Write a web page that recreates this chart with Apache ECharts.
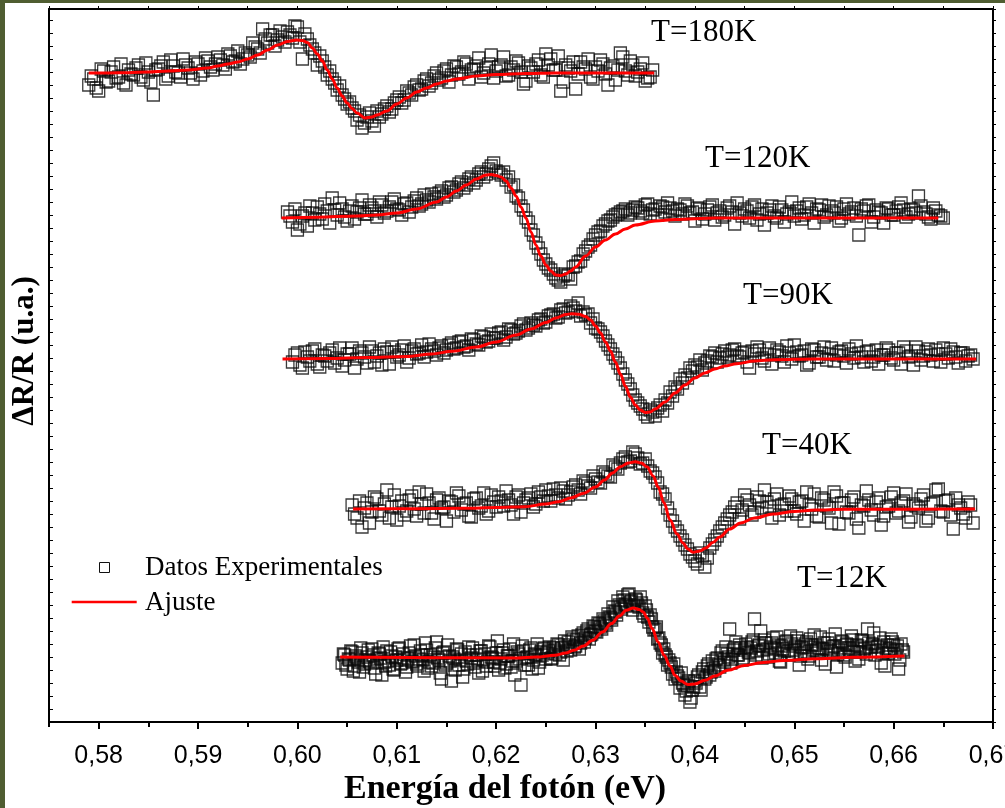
<!DOCTYPE html>
<html>
<head>
<meta charset="utf-8">
<script src="https://cdn.jsdelivr.net/npm/echarts@6/dist/echarts.min.js"></script>
<style>
  html, body { margin: 0; padding: 0; background: #fff; }
  #frame {
    position: absolute; left: 0; top: 0;
    width: 1000px; height: 805px;
    border-left: 5px solid #4f5d31; border-top: 3px solid #4f5d31;
    background: #fff;
  }
  #chart { width: 1000px; height: 805px; }
</style>
</head>
<body>
<div id="frame"><div id="chart"></div></div>
<script>
// Photon-energy axis ticks (eV)
const majorTicks = [0.58, 0.59, 0.60, 0.61, 0.62, 0.63, 0.64, 0.65, 0.66, 0.67];
const minorTicks = [0.575, 0.585, 0.595, 0.605, 0.615, 0.625, 0.635, 0.645, 0.655, 0.665];

// Spectra, top to bottom
const temps = ['T=180K', 'T=120K', 'T=90K', 'T=40K', 'T=12K'];
// vertical offset of each spectrum on the stacked ΔR/R scale (u.a.)
const offsets = [649, 504, 363, 213, 65];
// energy grid of each measurement: first point and step (eV);
// the second scan of every spectrum sits half a step later
const gridStart = [0.579, 0.599, 0.5995, 0.6055, 0.6045];
const gridStep  = [0.0005, 0.0005, 0.0005, 0.0005, 0.00025];

// Measured ΔR/R (u.a.), scan A, one value per grid point
const data180 = [
  -12, -6, -18, 2, -8, 6, -4, -10, 3, -2,
  8, -7, 1, -22, 4, 11, -3, 7, 0, 14,
  5, -6, 9, 2, 12, 3, 16, 8, 19, 11,
  22, 14, 18, 30, 24, 44, 30, 38, 33, 36,
  41, 35, 46, 14, 34, 24, 8, 12, -2, -6,
  -17, -22, -31, -35, -47, -55, -44, -48, -38, -41,
  -33, -36, -27, -30, -18, -22, -12, -16, -6, -10,
  0, -5, 4, -2, 6, 1, 9, 3, 7, -4,
  5, 18, 2, 8, -3, 6, 12, 1, -8, 5,
  9, -2, 19, 14, 3, -18, 8, 2, -16, 11,
  4, -4, 6, 13, -1, 5, -7, 20, 2, 12,
  -3, 4, -8, -4
];
const data120 = [
  6, -4, -12, 2, -8, 5, 11, -1, 7, 20,
  3, 9, -3, 12, 6, 18, 4, 10, 1, 13,
  7, 16, 9, 3, 15, 11, 20, 14, 18, 24,
  19, 27, 23, 31, 28, 36, 33, 41, 38, 46,
  44, 52, 47, 43, 38, 31, 22, 12, 0, -12,
  -25, -36, -46, -52, -60, -64, -56, -61, -48, -43,
  -33, -27, -17, -13, -6, -2, 3, 6, 9, 5,
  11, 7, 13, 4, 9, 12, 6, 10, 2, 8,
  14, 5, -3, 9, 4, 11, -2, 7, 3, 12,
  -6, 5, 9, 0, 13, 4, -7, 8, 2, 11,
  -4, 6, 2, 10, 3, 14, -5, 8, 1, 12,
  5, -3, 9, 4, 10, -17, 7, 13, 1, 6,
  -5, 9, 3, 11, 8, 4, 8, 22, 6, 1,
  10, 3, 0
];
const data90 = [
  -3, 6, -9, 2, 8, -5, 4, -2, 9, 1,
  -7, 5, 11, 0, 6, -4, 8, 3, -6, 7,
  12, 2, 9, -3, 8, 5, 14, 7, 10, 4,
  13, 9, 16, 11, 18, 13, 20, 15, 23, 17,
  25, 21, 27, 22, 29, 26, 33, 29, 36, 33,
  40, 37, 44, 41, 49, 46, 53, 48, 43, 44,
  36, 31, 27, 18, 10, 1, -9, -21, -30, -41,
  -47, -55, -51, -57, -46, -41, -33, -28, -20, -16,
  -9, -6, -1, -4, 3, 6, 1, 8, 4, 10,
  2, 7, -9, 5, 9, -2, 11, 4, 7, -3,
  6, 14, 3, 8, -4, 9, 2, 12, 5, -2,
  7, 3, 10, 1, 6, -3, 8, 2, -5, 4,
  9, -1, 6, 12, 2, -6, 8, 3, 10, -2,
  5, 11, 1, 7, -4, 6, 3, 0
];
const data40 = [
  4, -9, -18, 6, -3, 10, -6, 19, 2, -11,
  8, -2, 13, -7, 5, 15, -4, 9, 1, -12,
  7, 16, -1, 6, -8, 11, 3, -5, 14, 2,
  8, 18, 4, 12, -3, 9, 15, 5, 12, 19,
  8, 14, 21, 10, 17, 24, 15, 26, 21, 30,
  26, 35, 32, 42, 46, 52, 48, 55, 45, 50,
  38, 32, 17, 10, -6, -18, -27, -36, -45, -52,
  -44, -58, -39, -31, -22, -14, -6, 2, -10, 14,
  4, -3, 8, 19, 2, 10, -6, 5, 13, -2,
  7, -12, 4, 15, -8, 9, 1, 17, -15, 6,
  -4, 12, -19, 3, 9, -6, 11, -7, 3, 16,
  -2, 8, -13, 5, 1, 14, -9, 6, 20, -3,
  9, -20, 4, -5, 7, -14
];
const data12 = [
  -6, 2, -12, -3, 5, -9, -1, -15, 4, -7,
  0, -4, 8, -11, -2, 3, -18, -5, 6, -8,
  1, -13, -3, 9, -6, -1, -10, 4, -4, 12,
  -7, -2, 2, -14, 7, -5, -9, 0, 15, -3,
  -22, 5, -6, 1, -24, -2, 8, -8, 3, -12,
  -4, 10, -1, -6, 2, -16, 6, -3, -9, 11,
  0, -5, 4, -13, -2, 7, -7, 1, -10, 13,
  -4, 3, -28, 6, -1, -8, 9, -3, 2, -11,
  5, 8, -2, 6, -2, 9, 3, 12, 5, -3,
  10, 15, 7, 18, 11, 21, 14, 24, 19, 28,
  22, 31, 26, 34, 30, 38, 34, 43, 39, 50,
  45, 56, 50, 60, 53, 62, 55, 47, 58, 52,
  60, 44, 51, 40, 42, 30, 28, 18, 14, 4,
  2, -8, -6, -17, -22, -19, -31, -26, -38, -29,
  -45, -33, -24, -20, -30, -15, -22, -9, -18, -4,
  -14, -1, -10, 6, -5, 3, 28, -2, 9, 2,
  12, -3, 7, 10, 4, 15, 38, 6, 12, -1,
  17, 8, 3, 14, 9, 20, -4, 11, 6, 16,
  2, 13, 7, 19, -8, 10, 5, 15, 1, 12,
  22, 6, 9, -3, 14, 8, 18, 4, 11, -10,
  7, 16, 2, 13, 9, 21, 5, 12, -2, 17,
  8, 3, 14, 10, 24, 6, 11, -6, 15, 9,
  4, 18, 12, 7, -12, 13, 5
];

// Measured ΔR/R (u.a.), scan B (half a step after scan A)
const data180b = [
  -3, -15, 4, -9, 1, -5, 9, -12, -1, 5,
  -4, 10, -9, 3, 7, -6, 13, 1, -4, 8,
  0, 11, -2, 15, 6, 9, 13, 4, 17, 12,
  9, 20, 16, 26, 20, 34, 38, 27, 42, 31,
  38, 47, 31, 39, 28, 20, 17, 6, 2, -10,
  -13, -26, -29, -38, -42, -50, -40, -53, -44, -36,
  -39, -30, -24, -27, -20, -14, -17, -8, -13, -3,
  -7, 2, -9, 7, -1, 11, -6, 4, 15, 0,
  9, -5, 6, 16, -2, 3, 10, -11, 7, 1,
  13, -4, 8, 3, 17, -9, 5, 11, -1, 6,
  14, -6, 2, 9, -12, 7, 3, 16, -2, 8,
  1, 10, -5, 3
];
const data120b = [
  2, 9, -6, 5, 12, -2, 4, 14, -5, 8,
  15, 1, 7, -1, 10, 4, 13, 7, 16, 5,
  11, 19, 8, 14, 6, 17, 12, 23, 16, 21,
  25, 21, 30, 26, 34, 30, 39, 35, 44, 41,
  49, 55, 45, 46, 41, 33, 20, 8, -4, -17,
  -30, -42, -50, -56, -62, -58, -57, -49, -44, -36,
  -29, -21, -14, -8, -3, 1, 4, 7, 3, 8,
  10, 5, 14, 8, 3, 11, 15, 7, 9, 4,
  12, 6, 10, -1, 8, 13, 5, 1, 10, 6,
  15, 2, 7, 11, -2, 9, 5, 12, 0, 8,
  4, 16, 7, -1, 11, 5, 9, 13, 3, 7,
  11, 0, 14, 6, 2, 9, 12, -4, 8, 5,
  10, 3, 7, 15, 1, 9, 5, 12, 4, -1,
  7, 2
];
const data90b = [
  4, -6, 7, -2, 10, -8, 3, 6, -4, 11,
  -1, 5, -9, 8, 2, 12, -3, 6, 10, -5,
  7, 4, 13, 1, 10, 6, 2, 15, 8, 11,
  6, 14, 10, 17, 12, 9, 19, 14, 22, 18,
  21, 26, 19, 30, 25, 28, 35, 31, 34, 39,
  36, 43, 45, 42, 50, 47, 51, 56, 47, 45,
  40, 30, 23, 14, 5, -4, -15, -25, -36, -44,
  -50, -58, -53, -49, -52, -44, -37, -30, -24, -19,
  -12, -8, -11, -2, 2, -3, 5, 2, 9, 3,
  6, -3, 8, 12, 1, 5, -5, 9, 3, 13,
  0, 7, 4, -6, 10, 2, 6, -1, 11, 4,
  8, -4, 5, 13, 2, 7, -2, 9, 4, 11,
  1, 6, -5, 8, 3, 12, -1, 7, 4, 9,
  -3, 5, 10, 2, 6, -2, 4
];
const data40b = [
  -5, 8, 1, -14, 12, -2, 5, -9, 14, 3,
  -6, 9, 0, 17, -4, 6, -10, 11, 2, 8,
  -3, 13, 5, -7, 10, 1, 16, -2, 7, 12,
  3, 9, -5, 14, 6, 11, 2, 17, 8, 13,
  20, 11, 18, 14, 22, 19, 28, 23, 33, 27,
  37, 33, 44, 40, 50, 47, 57, 51, 46, 43,
  36, 26, 15, 1, -12, -22, -31, -40, -48, -55,
  -47, -49, -35, -27, -18, -10, -3, 6, -1, 9,
  -6, 12, 1, 7, -9, 15, 4, -2, 10, -5,
  8, 17, 0, -7, 11, 3, -14, 13, 6, -3,
  9, -10, 4, 18, -1, 7, -16, 2, 12, -4,
  6, 15, -8, 3, 10, -12, 5, 19, -2, 8,
  -6, 11, 1, -9, 4
];
const data12b = [
  3, -8, -2, 6, -14, 1, -5, 9, -10, -3,
  7, -6, 2, -17, 4, -1, 10, -9, -4, 5,
  -12, 0, 8, -7, 3, -15, -2, 11, -5, 1,
  -9, 6, -3, 14, -11, 2, -6, 9, -1, -16,
  4, -8, 12, -4, 0, -13, 7, -3, -20, 5,
  -7, 2, 9, -10, -2, 6, -14, 3, -5, 10,
  -1, -9, 16, -6, 4, -11, 1, 8, -4, -18,
  5, -2, 11, -8, 0, 7, -12, 3, 13, -5,
  2, 9, 4, 10, -1, 7, 13, 2, 9, 16,
  6, 12, 20, 10, 17, 8, 22, 15, 26, 18,
  23, 30, 25, 33, 28, 36, 32, 40, 37, 46,
  42, 52, 48, 57, 52, 63, 56, 51, 57, 50,
  54, 41, 47, 35, 38, 27, 30, 19, 12, 8,
  0, -3, -10, -7, -15, -21, -16, -28, -34, -24,
  -41, -30, -26, -18, -33, -12, -20, -7, -15, -11,
  -2, -8, 4, -3, 10, 0, -6, 7, 15, 2,
  9, -1, 13, 5, 9, 17, 2, 11, 26, 7,
  14, 0, 10, 19, 4, 12, -5, 8, 15, 6,
  21, 3, 11, 16, 1, 9, 13, -2, 18, 7,
  12, 4, 20, 8, -7, 14, 6, 10, 23, 3,
  9, 15, 0, 12, 7, 17, -4, 11, 5, 16,
  9, 28, 6, 13, 2, 10, 19, 4, -9, 12,
  8, 15, 3, 11, -3, 7
];

// Fitted line shapes: [energy (eV), ΔR/R (u.a.)]
const fit180 = [
  [0.579, 0], [0.581, 0], [0.583, 0.3], [0.585, 1], [0.587, 2], [0.589, 3], [0.591, 5],
  [0.592, 7], [0.593, 9], [0.594, 11], [0.595, 14], [0.596, 18], [0.597, 23], [0.598, 28],
  [0.599, 31.5], [0.5999, 33], [0.6005, 32.5], [0.601, 30.5], [0.6015, 25], [0.602, 19],
  [0.6025, 12], [0.603, 3], [0.6035, -6], [0.604, -15], [0.6045, -23], [0.605, -30],
  [0.6055, -35.5], [0.606, -40], [0.6068, -45], [0.6075, -44], [0.608, -42], [0.609, -38],
  [0.610, -31], [0.611, -25], [0.612, -19], [0.613, -15], [0.614, -11], [0.615, -8],
  [0.616, -6], [0.618, -3], [0.620, -1.5], [0.623, -0.5], [0.626, 0], [0.6359, 0]
];
const fit120 = [
  [0.5984, 0], [0.602, 0.8], [0.606, 2], [0.608, 3], [0.610, 5], [0.612, 9], [0.614, 16],
  [0.615, 21], [0.616, 27], [0.617, 33], [0.618, 39], [0.619, 43], [0.6195, 43.5],
  [0.620, 42.5], [0.6205, 41], [0.621, 37], [0.6215, 30], [0.622, 22], [0.6225, 11],
  [0.623, 0], [0.6235, -14], [0.624, -27], [0.6245, -38], [0.625, -47], [0.6255, -53],
  [0.626, -57], [0.6265, -57.5], [0.627, -56], [0.6275, -53], [0.628, -49], [0.629, -38],
  [0.630, -29], [0.631, -22], [0.632, -16], [0.633, -11], [0.634, -7], [0.636, -3],
  [0.638, -1.5], [0.642, 0], [0.6645, 0]
];
const fit90 = [
  [0.5985, 0], [0.603, 0.5], [0.607, 1.5], [0.611, 2.6], [0.6135, 5], [0.6156, 7.7],
  [0.618, 12], [0.620, 17], [0.622, 24], [0.6235, 30], [0.625, 36.5], [0.626, 41],
  [0.627, 44.5], [0.6276, 45.3], [0.6283, 44.8], [0.629, 42.6], [0.6295, 39], [0.630, 33],
  [0.6305, 26], [0.631, 17], [0.6315, 8], [0.632, -3], [0.6325, -15], [0.633, -27],
  [0.6335, -38], [0.634, -46], [0.6345, -51], [0.635, -53.4], [0.6355, -53], [0.636, -50],
  [0.637, -43], [0.638, -34], [0.639, -26], [0.640, -19], [0.641, -14], [0.642, -10],
  [0.643, -7], [0.6442, -4.7], [0.646, -2], [0.648, -0.7], [0.652, 0], [0.6683, 0]
];
const fit40 = [
  [0.6056, 0], [0.612, 0.3], [0.6167, 0.7], [0.620, 1.5], [0.6229, 2.3], [0.625, 5],
  [0.6263, 7.3], [0.6275, 11], [0.6288, 15.7], [0.630, 22], [0.6309, 29], [0.6317, 36],
  [0.6325, 42.3], [0.6333, 46], [0.634, 47.3], [0.6346, 46], [0.6352, 42], [0.6358, 33],
  [0.6363, 22], [0.6369, 6], [0.6375, -11], [0.6382, -25], [0.6388, -34], [0.6393, -40],
  [0.6398, -43.3], [0.6405, -42], [0.6411, -39], [0.6418, -33.5], [0.6425, -28],
  [0.6435, -20], [0.6446, -14], [0.646, -9], [0.6479, -5], [0.650, -2.5], [0.6521, -1],
  [0.655, -0.3], [0.6682, 0]
];
const fit12 = [
  [0.6043, 0], [0.608, -0.3], [0.6145, -0.7], [0.6221, -1], [0.624, 0], [0.6259, 1.7],
  [0.627, 4], [0.6278, 6.7], [0.6288, 11], [0.6297, 16.7], [0.6307, 25], [0.6316, 33.4],
  [0.6324, 41], [0.6331, 46.7], [0.6338, 49], [0.6344, 47.5], [0.6348, 45], [0.6352, 39],
  [0.6357, 28.4], [0.6363, 15], [0.6369, 1.7], [0.6375, -9], [0.638, -18.3], [0.6386, -24],
  [0.6393, -27.6], [0.640, -27], [0.641, -23.3], [0.642, -19], [0.6433, -13.3],
  [0.645, -8.5], [0.6467, -5.7], [0.649, -3.5], [0.6524, -1.7], [0.656, -0.3], [0.6611, 1]
];

const scansA = [data180, data120, data90, data40, data12];
const scansB = [data180b, data120b, data90b, data40b, data12b];
const fits = [fit180, fit120, fit90, fit40, fit12];

const X_MIN = 0.575, X_MAX = 0.67, Y_MIN = 0, Y_MAX = 713;
const fmtEnergy = v => v.toFixed(2).replace('.', ',');
const black = '#000';

// place one scan on its energy grid and lift it to the spectrum's offset
function scanPoints(vals, k, shift) {
  return vals.map((v, i) => [
    +(gridStart[k] + (i + shift) * gridStep[k]).toFixed(7),
    offsets[k] + v
  ]);
}

const series = [];
scansA.forEach((vals, k) => {
  series.push({
    type: 'scatter',
    name: 'Datos Experimentales',
    xAxisIndex: 0, yAxisIndex: 0,
    symbol: 'rect', symbolSize: 12,
    silent: true, z: 2,
    itemStyle: { color: 'rgba(0,0,0,0)', borderColor: '#0a0a0a', borderWidth: 1.3 },
    emphasis: { disabled: true },
    data: scanPoints(vals, k, 0).concat(scanPoints(scansB[k], k, 0.5))
  });
});
fits.forEach((pts, k) => {
  series.push({
    type: 'line',
    name: 'Ajuste',
    xAxisIndex: 0, yAxisIndex: 0,
    symbol: 'none', smooth: 0.35, smoothMonotone: 'x',
    silent: true, z: 3,
    lineStyle: { color: '#ff0000', width: 3 },
    emphasis: { disabled: true },
    data: pts.map(p => [p[0], offsets[k] + p[1]])
  });
});

const serif = '"Liberation Serif", "Times New Roman", serif';
const plotRect = { left: 44, right: 12, top: 6, bottom: 86 };

const option = {
  animation: false,
  backgroundColor: '#fff',
  grid: [
    Object.assign({ containLabel: false, outerBoundsMode: 'none' }, plotRect),
    Object.assign({ containLabel: false, outerBoundsMode: 'none' }, plotRect)
  ],
  xAxis: [
    {
      type: 'value', gridIndex: 0, position: 'bottom', min: X_MIN, max: X_MAX,
      axisLine: { show: true, onZero: false, lineStyle: { color: black, width: 2 } },
      axisTick: { show: true, length: 7, lineStyle: { color: black, width: 2 }, customValues: majorTicks },
      axisLabel: {
        show: true, customValues: majorTicks, formatter: fmtEnergy, margin: 22,
        color: black, fontFamily: '"Liberation Sans", Arial, sans-serif', fontSize: 25
      },
      splitLine: { show: false }
    },
    {
      type: 'value', gridIndex: 0, position: 'top', min: X_MIN, max: X_MAX,
      axisLine: { show: true, onZero: false, lineStyle: { color: black, width: 2 } },
      axisTick: { show: true, length: 3, lineStyle: { color: black, width: 1 },
                  customValues: majorTicks.concat(minorTicks) },
      axisLabel: { show: false },
      splitLine: { show: false }
    },
    {
      type: 'value', gridIndex: 1, position: 'bottom', min: X_MIN, max: X_MAX,
      axisLine: { show: false, onZero: false },
      axisTick: { show: true, length: 5, lineStyle: { color: black, width: 2 }, customValues: minorTicks },
      axisLabel: { show: false },
      splitLine: { show: false }
    }
  ],
  yAxis: [
    {
      type: 'value', gridIndex: 0, position: 'left', min: Y_MIN, max: Y_MAX, interval: 13,
      axisLine: { show: true, onZero: false, lineStyle: { color: black, width: 2 } },
      axisTick: { show: true, inside: true, length: 4, lineStyle: { color: black, width: 1 } },
      axisLabel: { show: false },
      splitLine: { show: false }
    },
    {
      type: 'value', gridIndex: 0, position: 'right', min: Y_MIN, max: Y_MAX, interval: 13,
      axisLine: { show: true, onZero: false, lineStyle: { color: black, width: 2 } },
      axisTick: { show: true, inside: false, length: 3, lineStyle: { color: black, width: 1 } },
      axisLabel: { show: false },
      splitLine: { show: false }
    },
    { type: 'value', gridIndex: 1, show: false, min: Y_MIN, max: Y_MAX }
  ],
  graphic: [
    // axis titles
    { type: 'text', x: 500, y: 786, silent: true,
      style: { text: 'Energía del fotón (eV)', fontFamily: serif, fontWeight: 'bold', fontSize: 34,
               fill: black, align: 'center', verticalAlign: 'middle' } },
    { type: 'text', x: 19.5, y: 348, rotation: Math.PI / 2, silent: true,
      style: { text: 'ΔR/R (u.a.)', fontFamily: serif, fontWeight: 'bold', fontSize: 31,
               fill: black, align: 'center', verticalAlign: 'middle' } },
    // temperature tags
    { type: 'text', x: 646, y: 29.5, silent: true,
      style: { text: temps[0], fontFamily: serif, fontSize: 31, fill: black, align: 'left', verticalAlign: 'middle' } },
    { type: 'text', x: 700, y: 156, silent: true,
      style: { text: temps[1], fontFamily: serif, fontSize: 31, fill: black, align: 'left', verticalAlign: 'middle' } },
    { type: 'text', x: 738, y: 293, silent: true,
      style: { text: temps[2], fontFamily: serif, fontSize: 31, fill: black, align: 'left', verticalAlign: 'middle' } },
    { type: 'text', x: 757, y: 443, silent: true,
      style: { text: temps[3], fontFamily: serif, fontSize: 31, fill: black, align: 'left', verticalAlign: 'middle' } },
    { type: 'text', x: 792, y: 576, silent: true,
      style: { text: temps[4], fontFamily: serif, fontSize: 31, fill: black, align: 'left', verticalAlign: 'middle' } },
    // key
    { type: 'rect', silent: true, shape: { x: 94.5, y: 559.5, width: 10, height: 10 },
      style: { fill: 'none', stroke: '#111', lineWidth: 1 } },
    { type: 'line', silent: true, shape: { x1: 66.7, y1: 599, x2: 131.7, y2: 599 },
      style: { stroke: '#ff0000', lineWidth: 2.5 } },
    { type: 'text', x: 140, y: 564.5, silent: true,
      style: { text: 'Datos Experimentales', fontFamily: serif, fontSize: 27, fill: black, align: 'left', verticalAlign: 'middle' } },
    { type: 'text', x: 140, y: 599.5, silent: true,
      style: { text: 'Ajuste', fontFamily: serif, fontSize: 27, fill: black, align: 'left', verticalAlign: 'middle' } }
  ],
  series: series
};

const chart = echarts.init(document.getElementById('chart'), null, { renderer: 'canvas' });
chart.setOption(option);
</script>
</body>
</html>
